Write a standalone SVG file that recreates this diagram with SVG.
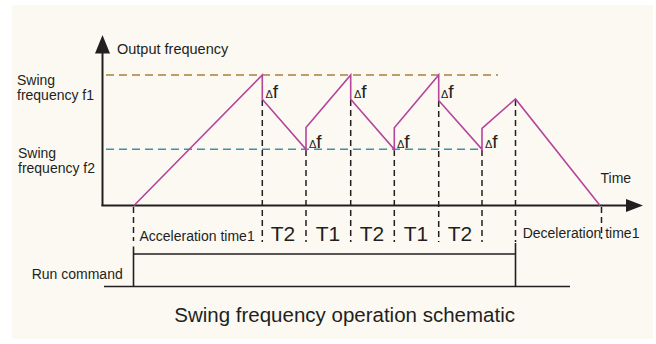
<svg xmlns="http://www.w3.org/2000/svg" width="656" height="344" viewBox="0 0 656 344">
<style>
text{font-family:"Liberation Sans",Arial,sans-serif;fill:#231f20}
.t14{font-size:14px}
.big{font-size:21px;text-anchor:middle}
.d{font-size:11px}
.f{font-size:19px}
.ax{stroke:#231f20;stroke-width:2;fill:none}
.vd{stroke:#231f20;stroke-width:1.5;stroke-dasharray:6 4;fill:none}
.sig{stroke:#231f20;stroke-width:1.6;fill:none}
.wave{stroke:#b5449b;stroke-width:1.6;fill:none;stroke-linejoin:miter}
</style>
<rect x="0" y="0" width="656" height="344" fill="#ffffff"/>
<rect x="12" y="5" width="641" height="334" fill="#fcf9f3"/>

<g id="axes">
<line class="ax" x1="102.5" y1="206" x2="102.5" y2="50"/>
<polygon points="95,53.5 110,53.5 102.5,35" fill="#231f20"/>
<line class="ax" x1="101.5" y1="205.5" x2="628" y2="205.5"/>
<polygon points="626,199 643,205.5 626,212" fill="#231f20"/>
<text class="t14" x="117" y="54" style="font-size:14.5px">Output frequency</text>
<text class="t14" x="600.5" y="182.7">Time</text>
</g>

<g id="levels">
<line x1="106" y1="75" x2="498" y2="75" stroke="#a8803c" stroke-width="1.5" stroke-dasharray="8 5"/>
<line x1="106" y1="149.3" x2="482" y2="149.3" stroke="#3d92a8" stroke-width="1.5" stroke-dasharray="8 5"/>
<text class="t14" x="17" y="85">Swing</text>
<text class="t14" x="17" y="100">frequency f1</text>
<text class="t14" x="18" y="158">Swing</text>
<text class="t14" x="18" y="173">frequency f2</text>
</g>

<g id="connectors">
<line class="vd" x1="133.5" y1="207" x2="133.5" y2="241"/>
<line class="vd" x1="262.3" y1="100" x2="262.3" y2="242"/>
<line class="vd" x1="306" y1="150" x2="306" y2="242"/>
<line class="vd" x1="350.7" y1="100" x2="350.7" y2="242"/>
<line class="vd" x1="394.3" y1="150" x2="394.3" y2="242"/>
<line class="vd" x1="438.7" y1="101" x2="438.7" y2="242"/>
<line class="vd" x1="482" y1="150" x2="482" y2="242"/>
<line class="vd" x1="515.5" y1="100" x2="515.5" y2="242"/>
<line class="vd" x1="601.5" y1="207" x2="601.5" y2="239"/>
</g>

<g id="wave">
<path class="wave" d="M134,205.5 L262.3,75 L262.3,99.3 L306,149.3 L306,127.5 L350.7,75 L350.7,99.3 L394.3,149.3 L394.3,127.7 L438.7,75 L438.7,100.5 L482,149.3 L482,128.3 L515.5,99 L600,205.5"/>
<text x="265.5" y="97.5"><tspan class="d">Δ</tspan><tspan class="f">f</tspan></text>
<text x="309" y="147.5"><tspan class="d">Δ</tspan><tspan class="f">f</tspan></text>
<text x="354" y="97.5"><tspan class="d">Δ</tspan><tspan class="f">f</tspan></text>
<text x="397" y="147.5"><tspan class="d">Δ</tspan><tspan class="f">f</tspan></text>
<text x="441" y="97.5"><tspan class="d">Δ</tspan><tspan class="f">f</tspan></text>
<text x="485" y="147.5"><tspan class="d">Δ</tspan><tspan class="f">f</tspan></text>
</g>

<g id="periods">
<text class="t14" x="139.5" y="240.7">Acceleration time1</text>
<text class="big" x="283" y="241">T2</text>
<text class="big" x="328" y="241">T1</text>
<text class="big" x="372" y="241">T2</text>
<text class="big" x="416" y="241">T1</text>
<text class="big" x="460" y="241">T2</text>
<text class="t14" x="522.7" y="237.7">Deceleration time1</text>
</g>

<g id="run-command">
<line class="sig" x1="104" y1="286.5" x2="570" y2="286.5"/>
<polyline class="sig" points="133.5,246.5 133.5,286.5"/>
<line class="sig" x1="133.5" y1="254" x2="515.5" y2="254"/>
<polyline class="sig" points="515.5,243 515.5,286.5"/>
<text class="t14" x="31.7" y="279.3">Run command</text>
</g>

<g id="title">
<text x="344.6" y="321.7" style="font-size:20.5px;text-anchor:middle">Swing frequency operation schematic</text>
</g>
</svg>
